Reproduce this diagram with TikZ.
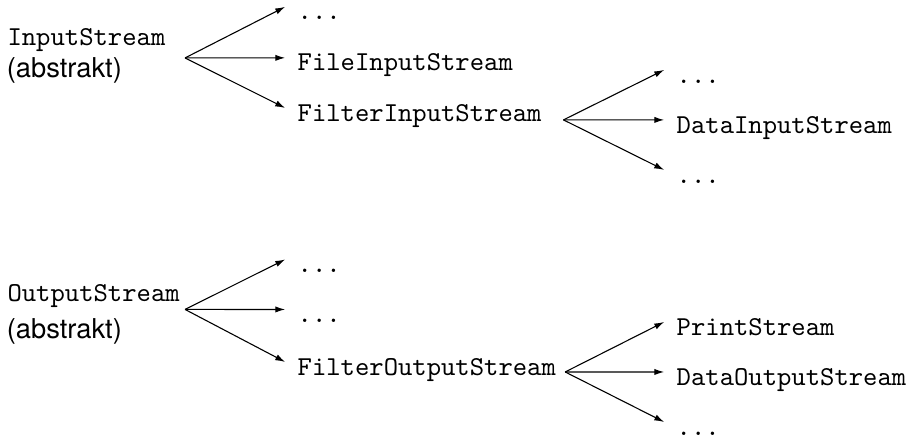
\documentclass[tikz,border=0pt]{standalone}
\usepackage{fontspec}
\newfontfamily\helv{TeX Gyre Heros}
\usetikzlibrary{arrows.meta}

\tikzset{
	cls/.style={font=\ttfamily, anchor=base west, inner xsep=4.4pt, inner ysep=0pt, text height=9.6pt, text depth=0pt},
	root/.style={font=\ttfamily, anchor=base west, inner sep=0pt},
	note/.style={font=\helv, anchor=base west, inner sep=0pt},
	sub/.style={-{Latex[length=3.6pt,width=2.3pt]}}
}

\begin{document}
\begin{tikzpicture}

		\useasboundingbox (0, 0) rectangle (11.73, -5.635);

		% Eingabe
		\node[root] (in) at (0.09, -0.579) {InputStream};
		\node[note] (inAbs) at (0.08, -1.000) {(abstrakt)};
		\coordinate (inFan) at (2.380, -0.745);

		\node[cls] (inDots) at (3.667, -0.257) {...};
		\node[cls] (fileIn) at (3.667, -0.913) {FileInputStream};
		\node[cls] (filterIn) at (3.667, -1.557) {FilterInputStream};

		\coordinate (filterInFan) at (7.247, -1.542);

		\node[cls] (filterInDotsA) at (8.542, -1.068) {...};
		\node[cls] (dataIn) at (8.542, -1.711) {DataInputStream};
		\node[cls] (filterInDotsB) at (8.542, -2.354) {...};

		\draw[sub] (inFan) -- (inDots.west);
		\draw[sub] (inFan) -- (fileIn.west);
		\draw[sub] (inFan) -- (filterIn.west);

		\draw[sub] (filterInFan) -- (filterInDotsA.west);
		\draw[sub] (filterInFan) -- (dataIn.west);
		\draw[sub] (filterInFan) -- (filterInDotsB.west);

		% Ausgabe
		\node[root] (out) at (0.09, -3.872) {OutputStream};
		\node[note] (outAbs) at (0.08, -4.360) {(abstrakt)};
		\coordinate (outFan) at (2.380, -3.980);

		\node[cls] (outDotsA) at (3.667, -3.506) {...};
		\node[cls] (outDotsB) at (3.667, -4.149) {...};
		\node[cls] (filterOut) at (3.667, -4.824) {FilterOutputStream};

		\coordinate (filterOutFan) at (7.269, -4.784);

		\node[cls] (print) at (8.542, -4.310) {PrintStream};
		\node[cls] (dataOut) at (8.542, -4.953) {DataOutputStream};
		\node[cls] (filterOutDots) at (8.542, -5.596) {...};

		\draw[sub] (outFan) -- (outDotsA.west);
		\draw[sub] (outFan) -- (outDotsB.west);
		\draw[sub] (outFan) -- (filterOut.west);

		\draw[sub] (filterOutFan) -- (print.west);
		\draw[sub] (filterOutFan) -- (dataOut.west);
		\draw[sub] (filterOutFan) -- (filterOutDots.west);

	\end{tikzpicture}
\end{document}
